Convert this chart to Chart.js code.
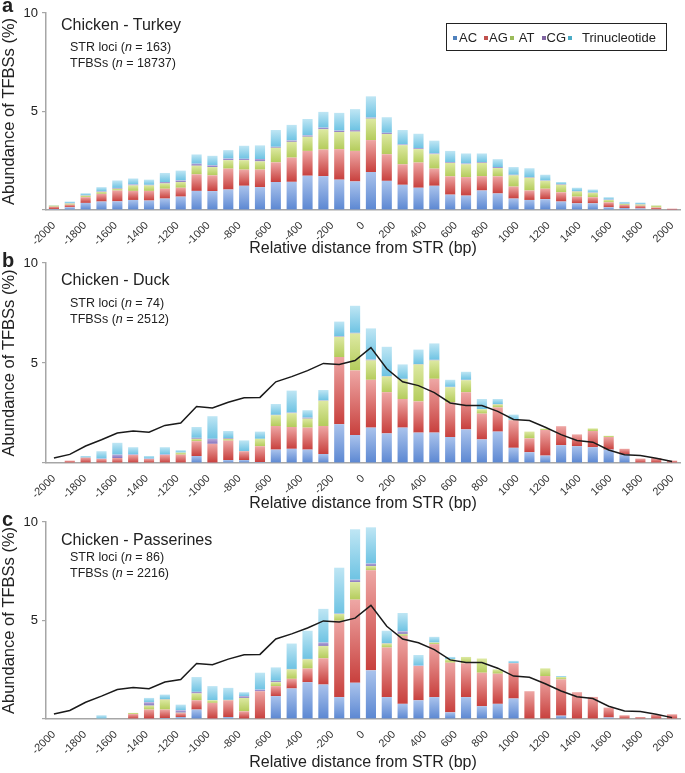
<!DOCTYPE html>
<html>
<head>
<meta charset="utf-8">
<script src="https://cdn.jsdelivr.net/npm/chart.js@4.4.0/dist/chart.umd.min.js"></script>
<style>
  body { margin: 0; background: #fff; font-family: "Liberation Sans", Arial, sans-serif; color: #222; }
  #fig { position: relative; width: 685px; height: 773px; overflow: hidden; }
  canvas { position: absolute; left: 0; }
  .txt { position: absolute; white-space: nowrap; z-index: 2; }
  .letter { font-weight: bold; font-size: 20px; line-height: 24px; left: 2px; }
  .title { font-size: 16px; line-height: 19px; left: 61px; }
  .note { font-size: 12.5px; line-height: 15px; left: 70px; }
  #legend { position: absolute; left: 446px; top: 23px; width: 221px; height: 28px; box-sizing: border-box;
            border: 1px solid #222; z-index: 2; font-size: 13px; line-height: 26px; white-space: nowrap; }
  #legend span { display: inline-block; vertical-align: middle; }
  #legend .sw { width: 4px; height: 4px; }
</style>
</head>
<body>
<div id="fig">
  <canvas id="chartA" width="685" height="258" style="top:0"></canvas>
  <canvas id="chartB" width="685" height="263" style="top:250px"></canvas>
  <canvas id="chartC" width="685" height="263" style="top:509px"></canvas>

  <div class="txt letter" style="top:-7px">a</div>
  <div class="txt title" style="top:15px">Chicken - Turkey</div>
  <div class="txt note" style="top:40px">STR loci (<i>n</i> = 163)</div>
  <div class="txt note" style="top:56px">TFBSs (<i>n</i> = 18737)</div>

  <div class="txt letter" style="top:248px">b</div>
  <div class="txt title" style="top:270px">Chicken - Duck</div>
  <div class="txt note" style="top:296px">STR loci (<i>n</i> = 74)</div>
  <div class="txt note" style="top:312px">TFBSs (<i>n</i> = 2512)</div>

  <div class="txt letter" style="top:507px">c</div>
  <div class="txt title" style="top:530px">Chicken - Passerines</div>
  <div class="txt note" style="top:550px">STR loci (<i>n</i> = 86)</div>
  <div class="txt note" style="top:566px">TFBSs (<i>n</i> = 2216)</div>

  <div id="legend"></div>
</div>
<script>
// 40 bins of 100 bp, -2000 .. 2000
const categories = [
  "-2000", "-1900", "-1800", "-1700", "-1600", "-1500", "-1400", "-1300", "-1200", "-1100",
  "-1000", "-900", "-800", "-700", "-600", "-500", "-400", "-300", "-200", "-100",
  "0", "100", "200", "300", "400", "500", "600", "700", "800", "900",
  "1000", "1100", "1200", "1300", "1400", "1500", "1600", "1700", "1800", "1900",
];
const tickLabels = [-2000, -1800, -1600, -1400, -1200, -1000, -800, -600, -400, -200,
  0, 200, 400, 600, 800, 1000, 1200, 1400, 1600, 1800, 2000];

const seriesNames = ["AC", "AG", "AT", "CG", "Trinucleotide"];

// a: Chicken - Turkey
const turkeyAC = [0.05, 0.14, 0.36, 0.43, 0.44, 0.51, 0.48, 0.58, 0.68, 0.97, 0.96, 1.04, 1.23, 1.16, 1.42, 1.43, 1.74, 1.72, 1.54, 1.45,
  1.93, 1.48, 1.28, 1.13, 1.23, 0.78, 0.73, 0.99, 0.84, 0.58, 0.51, 0.55, 0.43, 0.34, 0.34, 0.14, 0.10, 0.08, 0.04, 0.02];
const turkeyAG = [0.12, 0.13, 0.29, 0.39, 0.55, 0.46, 0.49, 0.50, 0.45, 0.84, 0.80, 1.06, 0.82, 0.89, 1.00, 1.23, 1.26, 1.35, 1.55, 1.55,
  1.62, 1.35, 1.04, 1.28, 0.87, 0.93, 0.94, 0.73, 0.87, 0.61, 0.48, 0.53, 0.47, 0.34, 0.31, 0.25, 0.16, 0.14, 0.09, 0.05];
const turkeyAT = [0.06, 0.06, 0.08, 0.10, 0.09, 0.28, 0.28, 0.27, 0.29, 0.44, 0.42, 0.43, 0.48, 0.42, 0.74, 0.80, 0.72, 1.03, 0.87, 0.98,
  1.09, 1.03, 0.97, 0.68, 0.73, 0.68, 0.65, 0.67, 0.42, 0.57, 0.65, 0.40, 0.38, 0.26, 0.22, 0.12, 0.05, 0.06, 0.10, 0];
const turkeyCG = [0, 0.02, 0.02, 0.03, 0.04, 0.05, 0.03, 0.07, 0.08, 0.10, 0.09, 0.08, 0.07, 0.12, 0.05, 0.07, 0.07, 0.08, 0.07, 0.08,
  0.05, 0.06, 0.04, 0.05, 0.04, 0.04, 0.04, 0.04, 0.05, 0.03, 0.03, 0.02, 0.03, 0.02, 0.02, 0.02, 0.01, 0.02, 0, 0];
const turkeyTri = [0.02, 0.08, 0.10, 0.21, 0.38, 0.30, 0.26, 0.46, 0.50, 0.47, 0.48, 0.43, 0.66, 0.69, 0.85, 0.79, 0.83, 0.80, 0.90, 1.06,
  1.08, 0.79, 0.73, 0.73, 0.65, 0.57, 0.51, 0.44, 0.40, 0.39, 0.45, 0.29, 0.11, 0.17, 0.15, 0.12, 0.09, 0.08, 0.01, 0];
// black reference line in b and c (total of panel a)
const turkeyTotal = [0.25, 0.43, 0.85, 1.16, 1.50, 1.60, 1.54, 1.88, 2.00, 2.82, 2.75, 3.04, 3.26, 3.28, 4.06, 4.32, 4.62, 4.98, 4.93, 5.12,
  5.77, 4.71, 4.06, 3.87, 3.52, 3.00, 2.87, 2.87, 2.58, 2.18, 2.12, 1.79, 1.42, 1.13, 1.04, 0.65, 0.41, 0.38, 0.24, 0.07];

// b: Chicken - Duck
const duckAC = [0, 0, 0, 0, 0, 0, 0, 0, 0, 0.35, 0.02, 0.15, 0.15, 0.05, 0.67, 0.71, 0.67, 0.45, 1.94, 1.40,
  1.77, 1.48, 1.77, 1.52, 1.52, 1.30, 1.68, 1.18, 1.57, 0.76, 0.54, 0.37, 0.89, 0.84, 0.79, 0.67, 0.42, 0, 0, 0];
const duckAG = [0, 0.12, 0.27, 0.20, 0.25, 0.40, 0.20, 0.40, 0.42, 0.74, 0.94, 0.97, 0.44, 0.79, 1.18, 1.09, 1.10, 1.40, 3.36, 3.23,
  2.39, 2.06, 1.43, 1.56, 2.69, 1.73, 1.86, 1.29, 1.21, 1.38, 0.69, 1.28, 0.95, 0.59, 0.81, 0.63, 0.29, 0.22, 0.25, 0.12];
const duckAT = [0, 0, 0, 0, 0, 0, 0, 0, 0.10, 0.12, 0, 0.09, 0, 0.37, 0.54, 0.69, 0.45, 1.26, 1.01, 1.85,
  0.97, 0.79, 0.99, 1.85, 0.92, 0.76, 0.60, 0.22, 0.15, 0.02, 0.34, 0.07, 0, 0, 0.13, 0.06, 0, 0, 0, 0];
const duckCG = [0, 0, 0, 0.02, 0.17, 0.03, 0.02, 0.03, 0, 0.05, 0.25, 0.04, 0, 0, 0.02, 0.03, 0.05, 0.02, 0.03, 0.03,
  0.04, 0.02, 0.02, 0.02, 0.03, 0.02, 0.02, 0, 0.02, 0, 0, 0, 0, 0, 0, 0, 0, 0, 0, 0];
const duckTri = [0, 0, 0.08, 0.37, 0.59, 0.36, 0.13, 0.36, 0.12, 0.54, 1.13, 0.35, 0.54, 0.36, 0.54, 1.10, 0.37, 0.52, 0.73, 1.35,
  1.56, 1.46, 0.72, 0.72, 0.82, 0.35, 0.40, 0.51, 0.25, 0.26, 0, 0, 0, 0, 0, 0, 0, 0, 0, 0];

// c: Chicken - Passerines
const passAC = [0, 0, 0, 0, 0, 0, 0.02, 0.05, 0.10, 0.48, 0.02, 0.10, 0.03, 0, 1.16, 1.55, 1.87, 1.75, 1.11, 1.84,
  2.47, 1.11, 0.77, 0.95, 1.11, 0.34, 1.11, 0.65, 0.77, 1.04, 0, 0, 0.17, 0, 0, 0.08, 0, 0, 0, 0];
const passAG = [0, 0, 0, 0, 0, 0.25, 0.46, 0.43, 0.20, 0.47, 0.80, 0.85, 0.36, 1.41, 0.51, 0.49, 0.69, 1.33, 3.88, 4.22,
  5.08, 2.52, 3.45, 1.74, 2.69, 2.52, 1.72, 1.70, 1.53, 1.79, 1.41, 2.18, 1.84, 1.36, 1.12, 0.50, 0.19, 0.10, 0.22, 0.24];
const passAT = [0, 0, 0, 0, 0.03, 0.06, 0.20, 0.51, 0.02, 0.35, 0.13, 0.02, 0.68, 0, 0.20, 0.48, 0.47, 0.63, 0.34, 0.89,
  0.22, 0.20, 0.10, 0, 0.08, 0.17, 0.32, 0.72, 0.22, 0, 0, 0.39, 0.12, 0, 0, 0, 0, 0, 0, 0];
const passCG = [0, 0, 0, 0, 0, 0, 0.17, 0.02, 0.12, 0.08, 0, 0, 0.09, 0.08, 0.07, 0.02, 0.02, 0.17, 0.02, 0.12,
  0.12, 0.02, 0.13, 0.02, 0, 0, 0, 0, 0, 0, 0, 0, 0, 0, 0, 0, 0, 0, 0, 0];
const passTri = [0, 0, 0, 0.19, 0, 0, 0.22, 0.23, 0.29, 0.75, 0.72, 0.61, 0.20, 0.86, 0.68, 1.29, 1.43, 1.71, 2.33, 2.56,
  1.84, 0.63, 0.93, 0.54, 0.29, 0.12, 0, 0, 0, 0.12, 0, 0, 0.05, 0, 0, 0, 0, 0, 0, 0];

// light (top) / dark (bottom) per series, plus legend colour
const colours = [
  { top: "#aac3ec", bottom: "#5b87d2", key: "#4f81bd" },
  { top: "#eea7a5", bottom: "#c8403d", key: "#c0504d" },
  { top: "#dde9a2", bottom: "#b4cc5c", key: "#9bbb59" },
  { top: "#b8acdb", bottom: "#8573bd", key: "#8064a2" },
  { top: "#bfe6f4", bottom: "#6ec3e3", key: "#4bacc6" },
];

Chart.defaults.font.family = '"Liberation Sans", Arial, sans-serif';
Chart.defaults.color = "#222";

// vertical gradient over one stacked segment
function shade(c) {
  return (ctx) => {
    const chart = ctx.chart;
    const y = chart.scales.y;
    if (ctx.type !== "data" || !y || !chart.chartArea) return c.bottom;
    const sets = chart.data.datasets;
    let lo = 0;
    for (let i = 0; i < ctx.datasetIndex; i++) {
      if (sets[i].stack === "bars") lo += sets[i].data[ctx.dataIndex] || 0;
    }
    const hi = lo + (ctx.raw || 0);
    const p0 = y.getPixelForValue(hi), p1 = y.getPixelForValue(lo);
    if (!(p1 > p0)) return c.bottom;
    const g = chart.ctx.createLinearGradient(0, p0, 0, p1);
    g.addColorStop(0, c.top);
    g.addColorStop(1, c.bottom);
    return g;
  };
}

const axisGrey = "#a6a6a6";
const halfStep = (tickLabels[tickLabels.length - 1] - tickLabels[0]) / (categories.length - 1) / 2;

function makePanel(id, series, withLine, plotTop, xHeight) {
  const datasets = [];
  if (withLine) {
    datasets.push({
      type: "line", label: "Chicken - Turkey", data: turkeyTotal, stack: "line", order: 0,
      borderColor: "#1a1a1a", borderWidth: 1.5, pointRadius: 0, tension: 0, fill: false,
    });
  }
  series.forEach((vals, i) => {
    datasets.push({
      type: "bar", label: seriesNames[i], data: vals, stack: "bars", order: 1,
      backgroundColor: shade(colours[i]), borderWidth: 0,
      barPercentage: 0.64, categoryPercentage: 1,
    });
  });

  return new Chart(document.getElementById(id), {
    type: "bar",
    data: { labels: categories, datasets },
    options: {
      responsive: false,
      animation: false,
      layout: { padding: { top: plotTop, right: 5, left: 0, bottom: 0 } },
      plugins: { legend: { display: false }, tooltip: { enabled: false } },
      scales: {
        x: { type: "category", display: false, stacked: true, offset: true },
        // label-only axis: -2000 sits on the first bar, 2000 on the last
        xl: {
          type: "linear", position: "bottom", offset: false,
          min: tickLabels[0] - halfStep, max: tickLabels[tickLabels.length - 1] + halfStep,
          afterBuildTicks: (s) => { s.ticks = tickLabels.map((v) => ({ value: v })); },
          afterFit: (s) => { s.height = xHeight; },
          ticks: {
            autoSkip: false, minRotation: 45, maxRotation: 45, padding: 1,
            font: { size: 11 }, color: "#333", callback: (v) => String(v),
          },
          grid: { display: false },
          border: { display: true, color: axisGrey, width: 1.5 },
          title: { display: true, text: "Relative distance from STR (bp)", font: { size: 16 }, color: "#222", padding: 0 },
        },
        y: {
          stacked: true, min: 0, max: 10,
          afterFit: (s) => { s.width = 46; },
          ticks: { stepSize: 5, padding: 4, font: { size: 13 }, color: "#222", callback: (v) => (v === 0 ? "" : v) },
          grid: { drawOnChartArea: false, tickLength: 4, color: axisGrey, lineWidth: 1.2 },
          border: { display: true, color: axisGrey, width: 1.5 },
          title: { display: true, text: "Abundance of TFBSs (%)", font: { size: 16.5 }, color: "#222", padding: 0 },
        },
      },
    },
  });
}

makePanel("chartA", [turkeyAC, turkeyAG, turkeyAT, turkeyCG, turkeyTri], false, 13, 48);
makePanel("chartB", [duckAC, duckAG, duckAT, duckCG, duckTri], true, 13, 50);
makePanel("chartC", [passAC, passAG, passAT, passCG, passTri], true, 13, 53);

// legend box (panel a)
const legend = document.getElementById("legend");
const gaps = [[6, 2], [7, 1], [2, 5], [7, 1], [2, 10]];
seriesNames.forEach((name, i) => {
  const sw = document.createElement("span");
  sw.className = "sw";
  sw.style.background = colours[i].key;
  sw.style.marginLeft = gaps[i][0] + "px";
  sw.style.marginRight = gaps[i][1] + "px";
  const t = document.createElement("span");
  t.textContent = name;
  legend.appendChild(sw);
  legend.appendChild(t);
});
</script>
</body>
</html>
